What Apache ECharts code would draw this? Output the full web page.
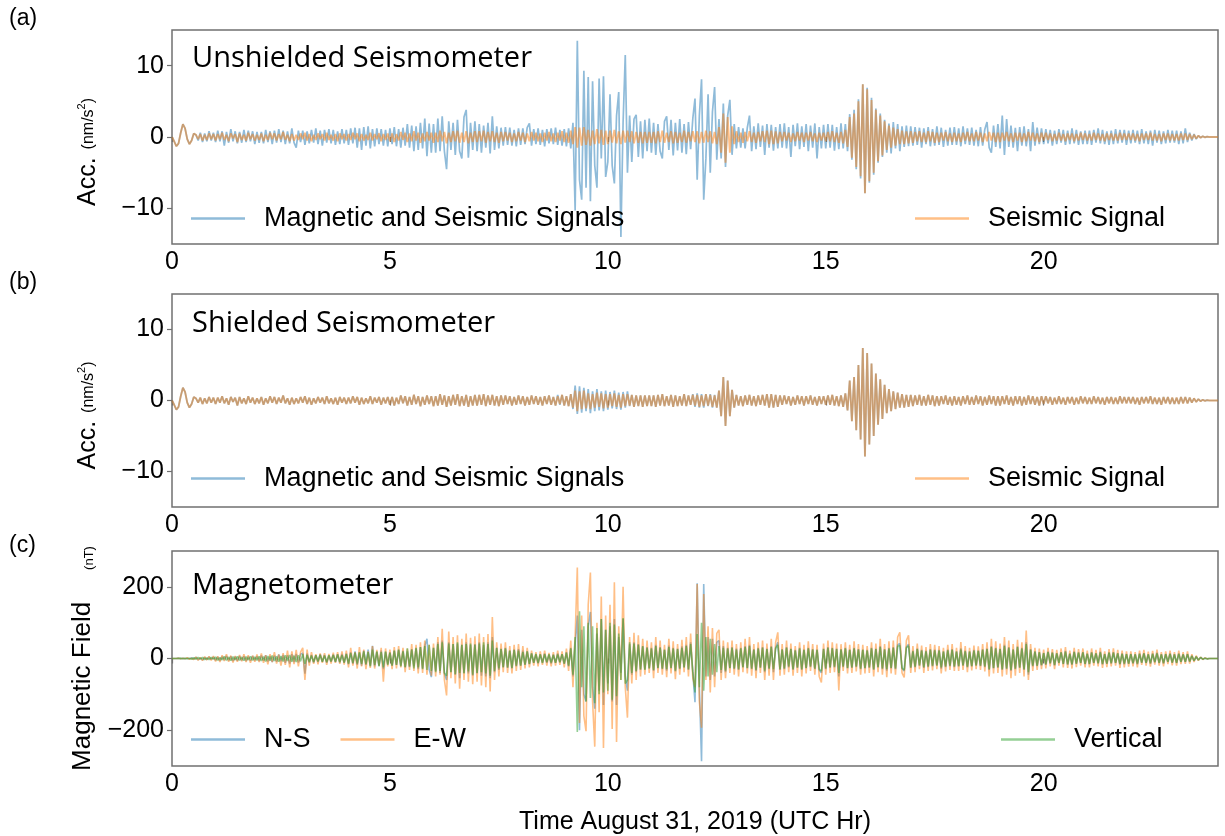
<!DOCTYPE html>
<html><head><meta charset="utf-8">
<script src="https://cdn.jsdelivr.net/npm/echarts@6/dist/echarts.min.js"></script>
<style>html,body{margin:0;padding:0;background:#fff}#c{width:1225px;height:836px}</style>
</head><body><div id="c"></div>
<script>
// sample spacing of all series (hours)
const sampleStepHr = 0.05;
const xTicks = [0, 5, 10, 15, 20];
const accTicks = [-10, 0, 10];
const magTicks = [-200, 0, 200];

// (a) unshielded seismometer, magnetic + seismic (nm/s^2), one row per hour
const unshieldedAcc = [
0,-0.6,-1.3,-0.9,0.6,1.8,1.2,-0.3,-1.0,-0.5,0.5,0.3,-0.5,0.6,-0.7,0.5,-0.6,0.8,-0.5,0.6,
-0.7,0.9,-0.6,0.8,-1.2,0.7,-0.8,1.1,-0.6,0.8,-0.9,0.7,-0.8,1.0,-0.7,0.9,-0.6,0.8,-1.0,0.7,
-0.8,0.7,-0.9,1.0,-0.7,0.8,-1.0,0.9,-0.8,1.1,-0.7,0.9,-1.0,0.8,-0.9,1.2,-0.8,-1.5,0.9,-0.7,
0.9,-1.1,0.8,-0.9,1.0,-0.8,1.2,-1.0,0.9,-1.2,1.0,-0.8,1.1,-0.9,1.0,-1.1,0.8,-1.0,1.1,-0.9,
1.0,-1.1,1.2,-0.9,1.3,-1.5,1.2,-1.8,1.4,-1.2,1.5,-1.6,1.1,-1.3,1.2,-1.0,1.1,-1.2,1.0,-1.3,
1.2,-1.0,1.4,-1.3,1.1,-1.5,1.3,-1.2,1.8,-1.5,1.6,-2.0,1.5,-1.8,2.0,-1.6,2.6,-2.7,1.9,-2.2,
1.8,-2.2,2.6,-2.0,2.9,-2.0,-4.5,2.2,-1.8,2.0,-2.5,2.4,-2.0,-3.0,2.8,3.8,-2.9,2.0,-1.8,2.2,
-2.0,1.8,-2.2,1.6,-1.5,2.0,-2.3,2.9,-1.8,1.5,-1.6,1.3,-1.2,1.4,-1.1,1.3,-1.2,1.0,-1.3,1.2,
-1.1,1.2,-1.0,1.3,1.9,-1.2,1.1,-1.0,1.2,-1.1,1.0,-1.3,1.1,-0.9,1.2,-1.0,1.3,-1.1,1.0,-1.2,
1.1,-1.3,1.2,-1.6,2.0,-10.3,13.5,-6.0,-8.8,9.3,-7.1,8.4,-9.0,7.8,-4.0,-7.1,8.2,-3.0,8.5,-5.6,
-3.5,6.0,-4.0,-6.5,3.0,6.3,-14.0,2.0,11.5,-5.0,3.0,-3.5,2.5,3.1,-2.8,2.2,-3.0,2.4,-2.0,2.6,
-2.2,2.0,-2.5,1.8,-2.0,-3.0,2.2,2.9,-1.8,2.4,-2.6,2.0,-1.9,2.5,-2.2,1.8,-2.4,2.1,-1.7,2.6,
5.4,-6.0,3.0,8.1,-8.8,-3.0,6.0,-5.0,3.5,7.0,-3.2,2.5,-3.0,4.7,-4.2,3.0,5.2,-2.5,1.8,-1.6,
1.4,-1.5,1.2,-1.6,1.3,3.0,-2.0,1.5,-1.7,1.9,-1.4,1.6,-2.5,1.8,-1.5,1.7,-1.9,1.4,-1.6,1.8,
-1.5,1.9,-1.6,1.4,-2.8,1.7,-1.3,1.9,-1.7,1.5,-1.4,1.8,-2.0,1.6,-1.5,1.9,-3.0,1.4,-1.6,1.7,
-1.6,1.8,-1.5,1.7,-1.9,1.4,-1.7,1.9,-1.6,1.8,-2.0,3.2,-3.2,3.8,-4.5,5.3,-5.8,7.4,-7.9,6.9,
-6.4,5.5,-5.3,4.0,-3.6,3.3,-2.8,2.4,-2.2,1.9,-2.3,2.1,-1.6,1.8,-2.0,1.5,-1.4,1.6,-1.3,1.5,
-1.2,1.4,-1.1,1.3,-1.5,1.2,-1.0,1.4,-1.3,1.1,-1.2,1.5,-1.1,1.3,-1.4,1.0,-1.2,1.3,-1.1,1.4,
-1.1,1.2,-1.3,1.5,-1.0,1.2,-1.1,1.3,-1.2,1.0,-1.3,1.4,-1.2,1.1,2.1,-1.5,-2.2,1.6,-1.4,1.8,
-1.6,3.0,-2.5,2.5,-1.4,1.6,-1.5,1.3,-2.0,1.4,-1.2,1.5,-1.3,1.1,-2.0,2.1,-1.2,1.3,-1.0,1.2,
-1.0,1.1,-0.9,1.0,-1.2,0.9,-1.0,1.1,-0.8,1.0,-1.1,0.9,-1.0,1.2,-0.9,1.0,-1.1,0.8,-1.0,0.9,
-1.0,0.9,-1.1,1.0,-0.8,1.2,-0.9,1.0,-1.0,0.8,-1.1,0.9,-1.0,1.1,-0.9,1.0,-0.8,1.0,-1.1,0.9,
-0.9,1.0,-0.8,0.9,-1.0,1.1,-0.9,0.8,-1.0,0.9,-1.2,1.0,-0.8,0.9,-1.0,0.8,-0.9,1.0,-0.8,0.9,
-0.8,0.9,-1.0,0.8,-0.9,1.2,-0.7,0.6,-0.5,0.4,-0.3,0.2,-0.1,0.1,-0.05,0.05,0,0,0,0,
0];

// seismic signal (nm/s^2), shown in (a) and (b)
const seismicAcc = [
0,-0.6,-1.3,-0.9,0.6,1.8,1.2,-0.3,-1.0,-0.5,0.5,0.3,-0.3,0.4,-0.5,0.3,-0.4,0.5,-0.3,0.4,
-0.5,0.4,-0.3,0.6,-0.4,0.3,-0.6,0.5,-0.2,0.4,-0.7,0.5,-0.4,0.3,-0.5,0.6,-0.3,0.4,-0.5,0.3,
-0.4,0.5,-0.6,0.3,-0.4,0.6,-0.3,0.5,-0.5,0.4,-0.3,0.7,-0.4,0.3,-0.6,0.4,-0.5,0.3,-0.4,0.5,
-0.3,0.6,-0.5,0.4,-0.6,0.3,-0.4,0.5,-0.3,0.4,-0.5,0.6,-0.4,0.3,-0.5,0.4,-0.6,0.5,-0.3,0.4,
-0.5,0.4,-0.4,0.6,-0.3,0.5,-0.6,0.4,-0.5,0.3,-0.4,0.6,-0.5,0.4,-0.3,0.5,-0.6,0.4,-0.4,0.5,
-0.6,0.5,-0.7,0.4,-0.5,0.7,-0.4,0.6,-0.7,0.5,-0.6,0.8,-0.5,0.6,-0.8,0.5,-0.6,0.7,-0.5,0.6,
-0.8,0.6,-0.7,0.9,-0.6,0.7,-0.9,0.6,-0.7,0.8,-0.6,0.9,-0.8,0.6,-0.7,0.8,-0.9,0.6,-0.7,0.8,
-0.7,0.8,-0.6,0.9,-0.8,0.7,-0.6,0.8,-0.7,0.6,-0.8,0.7,-0.6,0.7,-0.5,0.6,-0.7,0.5,-0.6,0.7,
-0.5,0.6,-0.7,0.5,-0.6,0.7,-0.5,0.6,-0.6,0.5,-0.7,0.6,-0.5,0.7,-0.6,0.5,-0.7,0.6,-0.5,0.8,
-0.7,0.6,-0.8,0.9,-1.0,1.4,-1.5,1.3,-1.2,1.4,-1.1,1.0,-1.2,0.9,-1.0,1.1,-0.9,1.0,-1.1,0.9,
-1.0,0.9,-0.8,1.0,-0.9,0.8,-1.0,0.9,-0.8,0.9,-0.7,0.8,-0.9,0.7,-0.8,0.7,-0.9,0.7,-0.8,0.7,
-0.8,0.7,-0.9,0.8,-0.7,0.9,-0.8,0.6,-0.7,0.8,-0.9,0.7,-0.8,0.6,-0.7,0.9,-0.8,0.7,-0.6,0.8,
-0.7,0.8,-0.9,0.7,-0.8,0.9,-0.7,0.8,-0.9,0.7,-1.0,1.4,-2.2,3.3,-3.6,2.8,-2.2,1.5,-1.0,0.8,
-0.7,0.6,-0.8,0.7,-0.6,0.8,-0.7,0.6,-0.8,0.7,-0.6,0.8,-0.7,0.9,-1.0,0.9,-1.0,0.8,-0.9,0.7,
-0.6,0.7,-0.5,0.6,-0.7,0.5,-0.6,0.7,-0.5,0.6,-0.7,0.6,-0.5,0.7,-0.6,0.5,-0.7,0.6,-0.5,0.6,
-0.6,0.7,-0.6,0.8,-0.7,0.6,-0.8,0.7,-0.9,1.0,-1.4,2.8,-2.9,3.3,-4.2,5.0,-5.5,7.4,-7.9,6.7,
-6.2,5.2,-5.0,3.8,-3.4,3.0,-2.6,2.2,-1.8,1.6,-1.5,1.3,-1.2,1.1,-1.0,0.9,-1.0,0.8,-0.9,0.8,
-0.8,0.7,-0.6,0.8,-0.7,0.6,-0.7,0.8,-0.6,0.7,-0.8,0.6,-0.7,0.6,-0.5,0.7,-0.6,0.5,-0.7,0.6,
-0.6,0.5,-0.7,0.6,-0.5,0.7,-0.6,0.5,-0.6,0.7,-0.5,0.6,-0.7,0.5,-0.6,0.7,-0.5,0.6,-0.7,0.6,
-0.7,0.6,-0.5,0.7,-0.6,0.5,-0.7,0.6,-0.5,0.6,-0.7,0.5,-0.6,0.7,-0.5,0.6,-0.6,0.5,-0.7,0.6,
-0.5,0.6,-0.4,0.5,-0.6,0.4,-0.5,0.6,-0.5,0.4,-0.6,0.5,-0.4,0.5,-0.6,0.4,-0.5,0.6,-0.4,0.5,
-0.5,0.4,-0.5,0.6,-0.4,0.5,-0.5,0.4,-0.6,0.5,-0.4,0.5,-0.5,0.4,-0.5,0.6,-0.4,0.5,-0.4,0.5,
-0.4,0.5,-0.5,0.4,-0.6,0.5,-0.4,0.5,-0.4,0.6,-0.5,0.4,-0.5,0.4,-0.6,0.5,-0.4,0.5,-0.5,0.4,
-0.5,0.4,-0.5,0.5,-0.4,0.5,-0.4,0.4,-0.3,0.3,-0.2,0.2,-0.1,0.1,-0.05,0.05,0,0,0,0,
0];

// (b) shielded seismometer, magnetic + seismic (nm/s^2)
const shieldedAcc = [
0,-0.6,-1.3,-0.9,0.6,1.8,1.2,-0.3,-1.0,-0.5,0.5,0.3,-0.3,0.4,-0.5,0.3,-0.4,0.5,-0.3,0.4,
-0.5,0.4,-0.3,0.6,-0.4,0.3,-0.6,0.5,-0.2,0.4,-0.7,0.5,-0.4,0.3,-0.5,0.6,-0.3,0.4,-0.5,0.3,
-0.4,0.5,-0.6,0.3,-0.4,0.6,-0.3,0.5,-0.5,0.4,-0.3,0.7,-0.4,0.3,-0.6,0.4,-0.5,0.3,-0.4,0.5,
-0.3,0.6,-0.5,0.4,-0.6,0.3,-0.4,0.5,-0.3,0.4,-0.5,0.6,-0.4,0.3,-0.5,0.4,-0.6,0.5,-0.3,0.4,
-0.5,0.4,-0.4,0.6,-0.3,0.5,-0.6,0.4,-0.5,0.3,-0.4,0.6,-0.5,0.4,-0.3,0.5,-0.6,0.4,-0.4,0.5,
-0.6,0.5,-0.7,0.4,-0.5,0.7,-0.4,0.6,-0.7,0.5,-0.6,0.8,-0.5,0.6,-0.8,0.5,-0.6,0.7,-0.5,0.6,
-0.8,0.6,-0.7,0.9,-0.6,0.7,-0.9,0.6,-0.7,0.8,-0.6,0.9,-0.8,0.6,-0.7,0.8,-0.9,0.6,-0.7,0.8,
-0.7,0.8,-0.6,0.9,-0.8,0.7,-0.6,0.8,-0.7,0.6,-0.8,0.7,-0.6,0.7,-0.5,0.6,-0.7,0.5,-0.6,0.7,
-0.5,0.6,-0.7,0.5,-0.6,0.7,-0.5,0.6,-0.6,0.5,-0.7,0.6,-0.5,0.7,-0.6,0.5,-0.7,0.8,-0.6,0.8,
-0.7,0.6,-0.8,0.9,-1.2,2.1,-1.9,2.0,-1.7,1.8,-1.5,1.6,-1.8,1.3,-1.5,1.6,-1.4,1.3,-1.5,1.4,
-1.3,1.2,-1.1,1.4,-1.2,1.1,-1.3,1.2,-1.0,1.3,-0.8,0.8,-0.9,0.7,-0.8,0.7,-0.9,0.7,-0.8,0.7,
-0.8,0.7,-0.9,0.8,-0.7,0.9,-0.8,0.6,-0.7,0.8,-0.9,0.7,-0.8,0.6,-0.7,0.9,-0.8,0.7,-0.6,0.9,
-0.9,1.0,-1.0,0.9,-1.0,0.9,-0.8,0.9,-1.0,0.8,-1.0,1.4,-2.2,3.3,-3.6,2.8,-2.2,1.5,-1.0,0.8,
-0.7,0.6,-0.8,0.7,-0.6,0.8,-0.7,0.6,-0.8,0.7,-0.6,0.8,-0.7,0.9,-1.0,0.9,-1.0,0.8,-0.9,0.7,
-0.6,0.7,-0.5,0.6,-0.7,0.5,-0.6,0.7,-0.5,0.6,-0.7,0.6,-0.5,0.7,-0.6,0.5,-0.7,0.6,-0.5,0.6,
-0.6,0.7,-0.6,0.8,-0.7,0.6,-0.8,0.7,-0.9,1.0,-1.4,2.8,-2.9,3.3,-4.2,5.0,-5.5,7.4,-7.9,6.7,
-6.2,5.2,-5.0,3.8,-3.4,3.0,-2.6,2.2,-1.8,1.6,-1.5,1.3,-1.2,1.1,-1.0,0.9,-1.0,0.8,-0.9,0.8,
-0.8,0.7,-0.6,0.8,-0.7,0.6,-0.7,0.8,-0.6,0.7,-0.8,0.6,-0.7,0.6,-0.5,0.7,-0.6,0.5,-0.7,0.6,
-0.6,0.5,-0.7,0.6,-0.5,0.7,-0.6,0.5,-0.6,0.7,-0.5,0.6,-0.7,0.5,-0.6,0.7,-0.5,0.6,-0.7,0.6,
-0.7,0.6,-0.5,0.7,-0.6,0.5,-0.7,0.6,-0.5,0.6,-0.7,0.5,-0.6,0.7,-0.5,0.6,-0.6,0.5,-0.7,0.6,
-0.5,0.6,-0.4,0.5,-0.6,0.4,-0.5,0.6,-0.5,0.4,-0.6,0.5,-0.4,0.5,-0.6,0.4,-0.5,0.6,-0.4,0.5,
-0.5,0.4,-0.5,0.6,-0.4,0.5,-0.5,0.4,-0.6,0.5,-0.4,0.5,-0.5,0.4,-0.5,0.6,-0.4,0.5,-0.4,0.5,
-0.4,0.5,-0.5,0.4,-0.6,0.5,-0.4,0.5,-0.4,0.6,-0.5,0.4,-0.5,0.4,-0.6,0.5,-0.4,0.5,-0.5,0.4,
-0.5,0.4,-0.5,0.5,-0.4,0.5,-0.4,0.4,-0.3,0.3,-0.2,0.2,-0.1,0.1,-0.05,0.05,0,0,0,0,
0];

// (c) magnetometer, N-S component (nT)
const magNS = [
0,0,0,1,-1,1,-1,1,-1,2,-2,3,-3,2,-4,3,-3,4,-3,4,
-5,4,-6,5,-4,7,-5,6,-7,5,-6,7,-5,6,-7,5,-6,7,-5,6,
-7,8,-6,9,-8,7,-10,8,-9,11,-8,10,-12,9,-14,12,-10,13,-11,12,
15,-42,14,-12,10,-11,9,-10,12,-9,10,-12,8,-9,11,-10,12,-11,13,-12,
14,-16,18,-15,20,-18,16,-20,22,-18,25,-20,35,-22,18,-20,22,-30,18,-16,
18,-20,22,-18,24,-20,22,-25,20,-24,26,-22,28,-30,32,-28,35,55,-30,-52,
30,-35,45,-40,50,-42,-60,45,-38,40,-45,42,-55,38,-40,45,-42,38,-48,40,
-42,45,-48,38,-50,45,-55,60,-38,30,-32,28,-25,30,-26,22,-28,25,-22,26,
-20,22,-18,20,-16,14,-12,11,-14,12,-11,14,-12,10,-14,11,-12,14,-11,12,
-15,18,-22,30,-50,40,120,-200,80,-100,-120,90,130,-80,-140,70,-90,110,-130,80,
-70,90,-120,110,-130,60,-40,110,-50,-90,40,-45,45,-38,40,-32,35,-30,32,-28,
30,-35,38,-28,32,-30,25,-34,36,-28,30,-36,28,-30,34,-25,38,-32,45,-40,
-122,210,-80,-287,208,-50,60,-60,55,-50,45,50,-40,35,-38,30,-28,32,-30,28,
-32,30,-25,35,-28,38,-30,26,-35,30,-26,32,-38,28,-30,35,-38,30,45,-32,
26,-30,32,-25,28,-32,24,-26,30,-32,25,-28,30,-24,26,-30,25,-32,-40,28,
-30,32,-26,30,-25,28,-50,26,-24,30,-28,25,-26,30,-24,26,-30,25,-28,24,
-26,30,-32,28,-25,35,-30,26,-34,30,-28,32,-30,38,42,-28,-35,32,40,-26,
22,-25,28,-20,24,-26,22,-24,26,-22,25,-20,24,-28,20,-24,25,-22,26,-24,
20,-22,28,-20,22,-25,20,-22,24,-20,22,-21,26,-24,28,-32,35,-28,30,-26,
28,-32,38,-30,32,-35,26,-30,34,-26,30,-32,45,-45,26,-22,20,-21,18,-20,
16,-18,20,-14,17,-20,15,-13,18,-16,21,-17,14,-18,20,-15,17,-13,18,-16,
14,-16,18,-13,15,-14,19,-17,13,-15,17,-14,18,-13,15,-17,14,-16,13,-15,
13,-14,12,-16,14,-12,15,-13,12,-15,14,-11,16,-13,12,-14,13,-10,14,-12,
12,-13,14,-10,12,-10,13,-9,8,-7,5,-4,3,-2,1,-1,0,0,0,0,
0];

// (c) magnetometer, E-W component (nT)
const magEW = [
0,0,0,1,-1,1,-1,2,-2,1,-3,4,-5,3,-6,5,-4,6,-5,7,
-8,6,-10,9,-7,12,-9,8,-11,7,-9,10,-8,12,-10,9,-12,8,-9,11,
-10,14,-12,9,-16,12,-10,18,-14,11,-20,15,-18,22,-25,20,-16,24,-22,18,
30,-60,25,-20,18,-15,12,-16,14,-12,15,-18,13,-14,16,-12,18,-15,20,-17,
22,-25,30,-20,18,-28,32,-22,25,-30,20,-26,35,-28,24,-20,30,-65,28,-22,
25,-30,32,-28,35,-25,30,-38,28,-32,40,-35,38,-42,45,-40,50,-45,38,-48,
42,-50,60,-45,83,-60,-103,75,-55,60,-70,65,-84,55,-60,70,-65,58,-72,62,
-65,70,-75,60,-80,68,-92,116,-60,45,-50,42,-38,45,-40,35,-42,38,-35,40,
-32,35,-28,30,-25,22,-20,18,-22,20,-18,22,-20,16,-22,18,-20,22,-18,20,
-25,28,-35,50,-80,60,254,-180,120,-160,-203,150,240,-120,-246,100,-150,173,-250,120,
-100,150,-197,213,-233,90,-60,200,-80,-165,60,-70,72,-60,65,-50,55,-45,50,-40,
45,-55,60,-40,50,-45,38,-52,55,-42,48,-58,40,-45,52,-38,60,-50,70,-55,
-80,208,-120,-193,180,-60,90,-95,85,-80,70,80,-60,50,-55,45,-40,50,-45,40,
-50,45,-38,55,-42,60,-48,40,-55,45,-40,50,-60,42,-48,55,-60,45,73,-48,
40,-45,50,-38,42,-48,35,-40,45,-50,38,-42,48,-35,40,-45,38,-50,-67,42,
-45,50,-40,45,-38,42,-89,40,-35,45,-42,38,-40,48,-36,40,-45,38,-42,35,
-40,45,-50,42,-38,55,-45,40,-52,48,-42,50,-45,60,73,-40,-53,50,65,-40,
35,-38,42,-30,36,-40,32,-35,40,-33,38,-30,35,-42,30,-36,38,-32,40,-35,
30,-35,46,-32,35,-38,30,-33,36,-30,34,-32,40,-36,45,-50,55,-42,48,-40,
42,-50,60,-45,50,-55,40,-48,52,-40,45,-50,78,-60,40,-35,30,-32,28,-30,
25,-28,30,-22,26,-30,24,-20,28,-25,32,-26,22,-28,30,-24,26,-20,28,-25,
22,-25,28,-20,24,-22,30,-26,20,-24,26,-22,28,-20,24,-26,22,-25,20,-23,
20,-22,18,-25,22,-18,24,-20,19,-23,21,-17,25,-20,18,-22,20,-16,22,-19,
18,-20,22,-16,18,-15,20,-14,12,-10,8,-6,4,-3,2,-1,0,0,0,0,
0];

// (c) magnetometer, vertical component (nT)
const magVertical = [
0,0,0,0,1,-1,1,-1,1,-2,2,-2,3,-2,3,-3,2,-3,3,-2,
4,-5,3,-4,6,-5,4,-6,5,-4,6,-5,4,-6,5,-4,6,-5,4,-5,
6,-7,5,-8,7,-6,8,-7,6,-9,7,-8,9,-7,10,-9,8,-10,9,-8,
12,-15,10,-9,8,-10,9,-8,10,-9,8,-10,9,-8,10,-9,11,-10,9,-11,
12,-14,15,-12,16,-14,18,-15,20,-16,18,-22,25,-18,20,-22,18,-25,20,-18,
16,-20,22,-18,25,-22,20,-24,28,-22,25,-28,30,-25,32,-30,35,-32,38,-35,
30,-38,40,-35,45,-40,-48,42,-38,40,-44,45,-40,38,-42,40,-36,42,-45,38,
-40,42,-38,45,-42,40,-48,50,-35,30,-28,26,-24,28,-25,22,-26,24,-20,22,
-20,18,-17,20,-15,14,-12,13,-12,11,-13,12,-10,12,-11,10,-12,11,-10,12,
-14,16,-20,28,-45,60,-205,132,-80,90,-120,100,-110,90,-125,85,-100,110,-95,80,
-90,100,-115,95,-105,70,-60,113,-70,-60,45,-40,42,-35,38,-30,34,-32,30,-28,
28,-32,35,-26,30,-28,24,-30,32,-26,28,-34,26,-28,30,-25,35,-30,40,-36,
-95,68,-80,100,-90,60,-50,55,-45,40,-38,35,-32,30,-34,28,-26,30,-28,25,
-30,28,-24,32,-26,35,-28,24,-32,28,-25,30,-34,26,-28,32,-30,28,38,-30,
25,-28,30,-22,26,-30,22,-25,28,-30,24,-26,28,-22,25,-28,24,-30,-35,26,
-28,30,-24,28,-23,26,-40,25,-22,28,-26,24,-25,28,-22,25,-28,24,-26,22,
-24,28,-30,26,-24,32,-28,25,-30,28,-26,30,-28,34,36,-26,-32,30,35,-25,
20,-23,26,-19,22,-24,20,-22,24,-20,23,-19,22,-25,19,-22,23,-20,24,-22,
19,-21,25,-19,20,-23,19,-21,22,-19,21,-20,24,-22,26,-30,32,-26,28,-24,
26,-30,35,-28,30,-32,24,-28,32,-25,28,-30,40,-38,24,-20,19,-20,17,-18,
15,-16,18,-13,16,-18,14,-12,17,-15,19,-16,13,-16,18,-14,16,-12,17,-15,
13,-15,16,-12,14,-13,17,-15,12,-14,16,-13,16,-12,14,-15,13,-14,12,-14,
12,-13,11,-14,13,-11,14,-12,11,-13,13,-10,14,-12,11,-13,12,-9,13,-11,
11,-12,13,-9,11,-9,12,-8,7,-6,5,-4,3,-2,1,-1,0,0,0,0,
0];

const BLUE = 'rgba(31,119,180,0.5)';
const ORANGE = 'rgba(255,127,14,0.5)';
const GREEN = 'rgba(44,160,44,0.5)';
const SANS = 'Liberation Sans, Arial, sans-serif';
const HUM = 'Open Sans, Noto Sans, sans-serif';
const SPINE = '#707070';

function pairs(values) {
  return values.map((v, i) => [Math.round(i * sampleStepHr * 100) / 100, v]);
}
function minusFmt(v) { return v < 0 ? '\u2212' + Math.abs(v) : String(v); }

const gridTops = [30, 294, 551];
const gridHeights = [214, 213, 222];
const grid = gridTops.map((t, i) => ({
  left: 172, right: 7, top: t, height: gridHeights[i],
  show: true, borderColor: SPINE, borderWidth: 1.5, backgroundColor: 'transparent'
}));

const xAxis = [0, 1, 2].map(i => ({
  type: 'value', gridIndex: i, min: 0, max: 24,
  axisLine: { show: false },
  splitLine: { show: false },
  axisTick: { show: true, customValues: xTicks, length: 5, lineStyle: { color: SPINE, width: 1.2 } },
  axisLabel: { customValues: xTicks, fontSize: 25, color: '#000', fontFamily: SANS, margin: 6 },
  name: i === 2 ? 'Time August 31, 2019 (UTC Hr)' : '',
  nameLocation: 'middle', nameGap: 44,
  nameTextStyle: { fontSize: 25, color: '#000', fontFamily: SANS }
}));

function accY(i) {
  return {
    type: 'value', gridIndex: i, min: -15, max: 15,
    axisLine: { show: false }, splitLine: { show: false },
    axisTick: { show: true, customValues: accTicks, length: 5, lineStyle: { color: SPINE, width: 1.2 } },
    axisLabel: { customValues: accTicks, formatter: minusFmt, fontSize: 25, color: '#000', fontFamily: SANS, margin: 8 },
    name: '{big|Acc.}{gap|}{small|(nm/s}{sup|2}{small|)}',
    nameLocation: 'middle', nameRotate: 90, nameGap: 71,
    nameTextStyle: {
      color: '#000', padding: [0, 30, 0, 0],
      rich: {
        big: { fontSize: 25, fontFamily: SANS, color: '#000', verticalAlign: 'middle' },
        gap: { width: 8 },
        small: { fontSize: 16, fontFamily: SANS, color: '#000', verticalAlign: 'middle' },
        sup: { fontSize: 11, fontFamily: SANS, color: '#000', verticalAlign: 'top' }
      }
    }
  };
}
const yAxis = [accY(0), accY(1), {
  type: 'value', gridIndex: 2, min: -300, max: 300,
  axisLine: { show: false }, splitLine: { show: false },
  axisTick: { show: true, customValues: magTicks, length: 5, lineStyle: { color: SPINE, width: 1.2 } },
  axisLabel: { customValues: magTicks, formatter: minusFmt, fontSize: 25, color: '#000', fontFamily: SANS, margin: 8 },
  name: '{big|Magnetic Field}{gap|}{small|(nT)}',
  nameLocation: 'middle', nameRotate: 90, nameGap: 76,
  nameTextStyle: {
    color: '#000',
    rich: {
      big: { fontSize: 26, fontFamily: SANS, color: '#000', verticalAlign: 'bottom' },
      gap: { width: 32 },
      small: { fontSize: 13, fontFamily: SANS, color: '#000', verticalAlign: 'bottom' }
    }
  }
}];

function line(name, data, color, xi, z, w) {
  return {
    type: 'line', name: name, xAxisIndex: xi, yAxisIndex: xi,
    data: pairs(data), showSymbol: false, symbol: 'none',
    color: color, lineStyle: { color: color, width: w },
    z: z, animation: false, silent: true
  };
}

const series = [
  line('Magnetic and Seismic Signals', unshieldedAcc, BLUE, 0, 2, 1.7),
  line('Seismic Signal', seismicAcc, ORANGE, 0, 3, 1.9),
  line('Magnetic and Seismic Signals', shieldedAcc, BLUE, 1, 2, 1.7),
  line('Seismic Signal', seismicAcc, ORANGE, 1, 3, 1.9),
  line('N-S', magNS, BLUE, 2, 2, 1.6),
  line('E-W', magEW, ORANGE, 2, 3, 1.6),
  line('Vertical', magVertical, GREEN, 2, 4, 1.6)
];

function leg(names, left, top) {
  return {
    data: names, left: left, top: top, padding: 0, itemGap: 30,
    icon: 'rect', itemWidth: 54, itemHeight: 2.5,
    textStyle: { fontSize: 27, color: '#000', fontFamily: SANS, padding: [0, 0, 0, 14] },
    selectedMode: false
  };
}

const titleStyle = { fontSize: 23, fontWeight: 'normal', color: '#000', fontFamily: SANS };
const panelStyle = { fontSize: 29, fontWeight: 'normal', color: '#000', fontFamily: HUM };

const option = {
  backgroundColor: '#fff',
  animation: false,
  title: [
    { text: '(a)', left: 9, top: 7, padding: 0, textStyle: titleStyle },
    { text: '(b)', left: 9, top: 271, padding: 0, textStyle: titleStyle },
    { text: '(c)', left: 9, top: 534, padding: 0, textStyle: titleStyle },
    { text: 'Unshielded Seismometer', left: 192, top: 44, padding: 0, textStyle: panelStyle },
    { text: 'Shielded Seismometer', left: 192, top: 309, padding: 0, textStyle: panelStyle },
    { text: 'Magnetometer', left: 192, top: 571, padding: 0, textStyle: panelStyle }
  ],
  legend: [
    leg(['Magnetic and Seismic Signals'], 191, 205),
    leg(['Seismic Signal'], 915, 205),
    leg(['Magnetic and Seismic Signals'], 191, 465),
    leg(['Seismic Signal'], 915, 465),
    leg(['N-S', 'E-W'], 191, 726),
    leg(['Vertical'], 1001, 726)
  ],
  grid: grid,
  xAxis: xAxis,
  yAxis: yAxis,
  series: series
};

const chart = echarts.init(document.getElementById('c'), null, { renderer: 'canvas' });
chart.setOption(option);
</script>
</body></html>
